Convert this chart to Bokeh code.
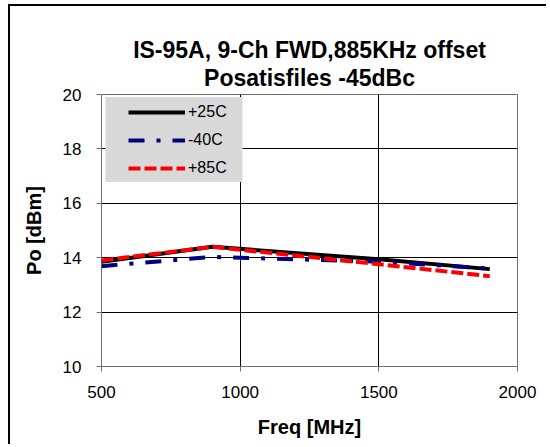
from bokeh.plotting import figure
from bokeh.models import Title, Legend, LegendItem, Range1d, FixedTicker, BoxAnnotation
from bokeh.embed import file_html
from bokeh.resources import INLINE

# data
freq_25 = [500, 900, 1500, 1900]
po_25 = [13.85, 14.40, 13.94, 13.58]
freq_m40 = [500, 900, 1000, 1500, 1900]
po_m40 = [13.69, 14.03, 14.00, 13.85, 13.60]
freq_85 = [500, 900, 1500, 1900]
po_85 = [13.90, 14.40, 13.76, 13.32]

x_ticks = [500, 1000, 1500, 2000]
y_ticks = [10, 12, 14, 16, 18, 20]
title1 = "IS-95A, 9-Ch FWD,885KHz offset"
title2 = "Posatisfiles -45dBc"

FONT = "Liberation Sans"

p = figure(width=538, height=440, output_backend="svg", toolbar_location=None,
           x_range=Range1d(500, 2000), y_range=Range1d(10, 20),
           min_border_left=91, min_border_right=31, min_border_top=88, min_border_bottom=80)
p.title = None
p.styles = {"border-left": "2px solid black", "border-top": "2px solid black",
            "margin-left": "8px", "margin-top": "4px"}

t2 = Title(text=title2, align="center", text_font=FONT, text_font_size="23px",
           text_font_style="bold", text_color="black", standoff=7, offset=9)
t1 = Title(text=title1, align="center", text_font=FONT, text_font_size="23px",
           text_font_style="bold", text_color="black", standoff=-7, offset=9)
p.add_layout(t2, "above")
p.add_layout(t1, "above")

p.outline_line_color = "#707070"
p.outline_line_width = 1

for ax in (p.xaxis[0], p.yaxis[0]):
    ax.axis_line_color = None
    ax.major_tick_line_color = "#707070"
    ax.major_tick_out = 5
    ax.major_tick_in = 0
    ax.minor_tick_line_color = None
    ax.major_label_text_font = FONT
    ax.major_label_text_font_size = "17px"
    ax.major_label_text_color = "black"
    ax.axis_label_text_font = FONT
    ax.axis_label_text_font_style = "bold"
    ax.axis_label_text_font_size = "20px"
    ax.axis_label_text_color = "black"

p.xaxis.ticker = FixedTicker(ticks=x_ticks)
p.yaxis.ticker = FixedTicker(ticks=y_ticks)
p.xaxis.axis_label = "Freq [MHz]"
p.yaxis.axis_label = "Po [dBm]"
p.xaxis.major_label_standoff = 14
p.yaxis.major_label_standoff = 15
p.xaxis.axis_label_standoff = 15
p.yaxis.axis_label_standoff = 15

p.xgrid.grid_line_color = "black"
p.ygrid.grid_line_color = "black"
p.xgrid.grid_line_width = 1
p.ygrid.grid_line_width = 1

r25 = p.line(freq_25, po_25, line_color="black", line_width=4)
rm40 = p.line(freq_m40, po_m40, line_color="#000080", line_width=4, line_dash="16 12 4 12")
r85 = p.line(freq_85, po_85, line_color="red", line_width=4, line_dash="12 4")

# legend background box (screen units)
legend_bg = BoxAnnotation(left=4, right=141, top=269.5, bottom=184.5,
                          left_units="screen", right_units="screen",
                          top_units="screen", bottom_units="screen",
                          fill_color="#d9d9d9", fill_alpha=1, line_color=None)
p.add_layout(legend_bg)

legend = Legend(items=[LegendItem(label="+25C", renderers=[r25]),
                       LegendItem(label="-40C", renderers=[rm40]),
                       LegendItem(label="+85C", renderers=[r85])],
                location=(27, 189))
legend.background_fill_alpha = 0
legend.border_line_color = None
legend.margin = 0
legend.padding = 5
legend.spacing = 10
legend.glyph_width = 57
legend.glyph_height = 18
legend.label_standoff = 3
legend.label_text_font = FONT
legend.label_text_font_size = "16px"
legend.label_text_color = "black"
legend.label_height = 18
p.add_layout(legend, "center")

open("out.html", "w").write(file_html(p, INLINE))
